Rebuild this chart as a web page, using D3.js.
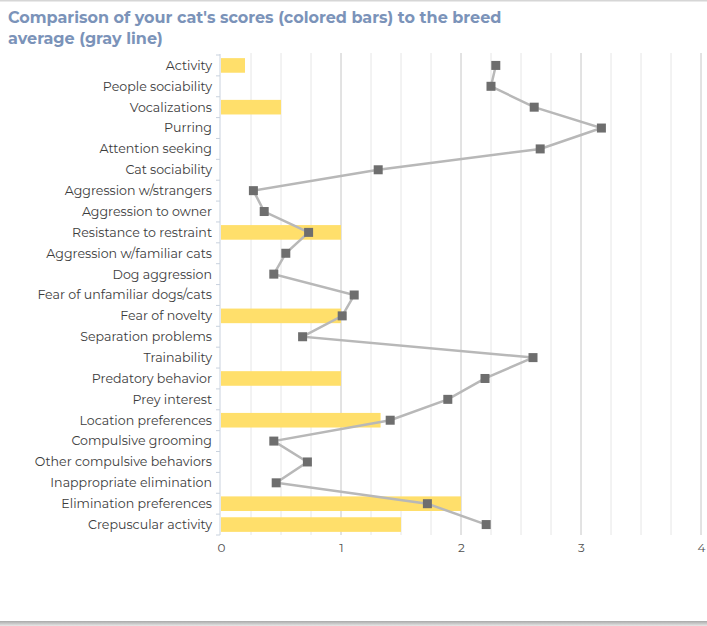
<!DOCTYPE html>
<html><head><meta charset="utf-8">
<script src="https://cdn.jsdelivr.net/npm/d3@7"></script>
<style>
html,body{margin:0;padding:0;background:#fff;}
svg{display:block;}
</style></head>
<body>
<svg id="chart" width="707" height="626"></svg>
<script>
const titleLines = ["Comparison of your cat's scores (colored bars) to the breed", "average (gray line)"];
const categories = ["Activity","People sociability","Vocalizations","Purring","Attention seeking","Cat sociability","Aggression w/strangers","Aggression to owner","Resistance to restraint","Aggression w/familiar cats","Dog aggression","Fear of unfamiliar dogs/cats","Fear of novelty","Separation problems","Trainability","Predatory behavior","Prey interest","Location preferences","Compulsive grooming","Other compulsive behaviors","Inappropriate elimination","Elimination preferences","Crepuscular activity"];
const catScores = [0.2,0,0.5,0,0,0,0,0,1,0,0,0,1,0,0,1,0,1.33,0,0,0,2,1.5];
const breedAverage = [2.29,2.25,2.61,3.17,2.66,1.31,0.27,0.36,0.73,0.54,0.44,1.11,1.01,0.68,2.6,2.2,1.89,1.41,0.44,0.72,0.46,1.72,2.21];
const xTicks = [0,1,2,3,4];

const svg = d3.select("#chart");
const font = "Montserrat, 'Open Sans', 'DejaVu Sans', sans-serif";

// frame lines
svg.append("rect").attr("x",0).attr("y",0).attr("width",707).attr("height",1.5).attr("fill","#d6d6d6");
const grad = svg.append("defs").append("linearGradient").attr("id","bg").attr("x1",0).attr("y1",0).attr("x2",0).attr("y2",1);
grad.append("stop").attr("offset",0).attr("stop-color","#a8a8a8");
grad.append("stop").attr("offset",1).attr("stop-color","#e8e8e8");
svg.append("rect").attr("x",0).attr("y",621).attr("width",707).attr("height",5).attr("fill","url(#bg)");

// title
svg.append("text").attr("x",8).attr("y",23).attr("fill","#7b93b9")
  .attr("font-family",font).attr("font-weight","bold").attr("font-size",16)
  .selectAll("tspan").data(titleLines).join("tspan")
  .attr("x",8).attr("dy",(d,i)=> i===0?0:21).text(d=>d);

const x = d3.scaleLinear().domain([0,4]).range([221,701]);
const y = d3.scaleBand().domain(categories).range([55,535]).paddingInner(0.3).paddingOuter(0.15);
const yPoint = c => y(c) + y.bandwidth()/2;

// gridlines
const minor = d3.range(0,4.001,0.25).filter(v=>v>0);
svg.append("g").selectAll("line").data(minor).join("line")
  .attr("x1",d=>x(d)).attr("x2",d=>x(d)).attr("y1",53).attr("y2",535)
  .attr("stroke",d=> Number.isInteger(d) ? "#c6c6c6" : "#e6e6e6").attr("stroke-width",1);

// bars
svg.append("g").selectAll("rect").data(categories).join("rect")
  .attr("x",x(0)).attr("y",c=>y(c))
  .attr("width",(c,i)=>x(catScores[i])-x(0)).attr("height",y.bandwidth())
  .attr("fill","#ffdf6b");

// y axis
const yAxisG = svg.append("g").attr("transform",`translate(${x(0)-1},0)`);
yAxisG.append("line").attr("x1",0).attr("x2",0).attr("y1",54).attr("y2",535).attr("stroke","#c9d2de");
const bounds = d3.range(0,categories.length+1).map(i=>55 + i*(480/categories.length));
yAxisG.selectAll("line.t").data(bounds).join("line").attr("class","t")
  .attr("x1",-4).attr("x2",0).attr("y1",d=>d).attr("y2",d=>d).attr("stroke","#c9d2de");
yAxisG.selectAll("text").data(categories).join("text")
  .attr("x",-8).attr("y",c=>yPoint(c)).attr("dy","0.35em").attr("text-anchor","end")
  .attr("font-family",font).attr("font-size",12.6).attr("fill","#3c3c3c").text(c=>c);

// x axis labels
const xAxis = d3.axisBottom(x).tickValues(xTicks).tickSize(0).tickFormat(d3.format("d"));
const xg = svg.append("g").attr("transform","translate(0,540)").call(xAxis);
xg.select(".domain").remove();
xg.selectAll("text").attr("font-family",font).attr("font-size",12).attr("fill","#505050");

// line
const pts = categories.map((c,i)=>[x(breedAverage[i]), yPoint(c)]);
svg.append("path").attr("d",d3.line()(pts)).attr("fill","none").attr("stroke","#b8b8b8").attr("stroke-width",2.5);
svg.append("g").selectAll("rect").data(pts).join("rect")
  .attr("x",d=>d[0]-4.5).attr("y",d=>d[1]-4.5).attr("width",9).attr("height",9).attr("fill","#6e6e6e");
</script>
</body></html>
